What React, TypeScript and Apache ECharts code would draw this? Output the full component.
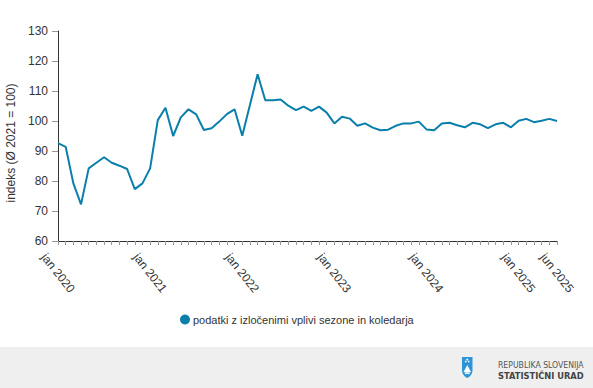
import React, { useEffect, useRef } from "react";
import * as echarts from "echarts";

const monthNames = ["jan", "feb", "mar", "apr", "maj", "jun", "jul", "avg", "sep", "okt", "nov", "dec"];
const years = [2020, 2021, 2022, 2023, 2024, 2025];
const lastMonthCount = 6; // 2025 ends in June

const seriesName = "podatki z izločenimi vplivi sezone in koledarja";
const values = [
  92.6, 91.4, 79.2, 72.2, 84.2, 86.1, 87.9, 86.1, 85.1, 84.0, 77.3, 79.2,
  84.2, 100.3, 104.4, 95.0, 101.2, 103.9, 102.2, 97.0, 97.6, 99.8, 102.3, 103.9,
  95.1, 105.3, 115.6, 106.9, 106.9, 107.2, 105.1, 103.6, 104.8, 103.4, 104.8, 102.8,
  99.2, 101.4, 100.8, 98.4, 99.2, 97.8, 96.9, 97.1, 98.4, 99.2, 99.2, 99.8,
  97.2, 96.9, 99.2, 99.4, 98.6, 97.9, 99.4, 98.9, 97.6, 98.9, 99.4, 97.9,
  100.1, 100.7, 99.6, 100.1, 100.7, 100.0,
];

const yAxisTitle = "indeks (Ø 2021 = 100)";
const yMin = 60;
const yMax = 130;
const yStep = 10;

const categories: string[] = [];
years.forEach((y, yi) => {
  const n = yi === years.length - 1 ? lastMonthCount : 12;
  for (let m = 0; m < n; m++) categories.push(`${monthNames[m]} ${y}`);
});

const shieldPath = "M0 0 L10.5 0 L10.5 13 C10.5 17.5 7.5 20 5.25 21 C3 20 0 17.5 0 13 Z";
const mountainPath = "M1.5 15 L4 10.5 L5.25 8 L6.5 10.5 L9 15 C7.5 16 3 16 1.5 15 Z";
echarts.graphic.registerShape("shieldShape", echarts.graphic.extendPath(shieldPath, {}));
echarts.graphic.registerShape("mountainShape", echarts.graphic.extendPath(mountainPath, {}));

const FONT = "Arial, 'Liberation Sans', sans-serif";

export default function App() {
  const ref = useRef<HTMLDivElement>(null);
  useEffect(() => {
    if (!ref.current) return;
    const chart = echarts.init(ref.current, undefined, { renderer: "svg" });
    const lastIdx = categories.length - 1;
    chart.setOption({
      animation: false,
      backgroundColor: "#ffffff",
      textStyle: { fontFamily: FONT },
      grid: { left: 58, right: 36, top: 31, bottom: 147, containLabel: false },
      legend: {
        show: true,
        left: 175,
        top: 309,
        icon: "circle",
        itemWidth: 10,
        itemHeight: 10,
        itemGap: 10,
        textStyle: { fontSize: 11, color: "#333333", fontFamily: FONT, padding: [0, 0, 0, -2] },
        data: [seriesName],
      },
      xAxis: {
        type: "category",
        data: categories,
        boundaryGap: false,
        axisLine: { show: true, lineStyle: { color: "#333333", width: 1 } },
        axisTick: { show: true, interval: 0, length: 4, lineStyle: { color: "#999999" } },
        axisLabel: {
          interval: (index: number) => index % 12 === 0 || index === lastIdx,
          rotate: -52,
          align: "center",
          verticalAlign: "middle",
          margin: 32,
          fontSize: 12,
          color: "#333333",
          fontFamily: FONT,
        },
        splitLine: { show: false },
      },
      yAxis: {
        type: "value",
        min: yMin,
        max: yMax,
        interval: yStep,
        axisLine: { show: true, lineStyle: { color: "#333333", width: 1 } },
        axisTick: { show: true, length: 6, lineStyle: { color: "#999999" } },
        axisLabel: { fontSize: 12, color: "#333333", margin: 10, fontFamily: FONT },
        splitLine: { show: false },
      },
      series: [
        {
          name: seriesName,
          type: "line",
          data: values,
          symbol: "none",
          color: "#0a7fab",
          lineStyle: { color: "#0a7fab", width: 2 },
        },
      ],
      graphic: [
        {
          type: "text",
          x: 11,
          y: 143,
          rotation: Math.PI / 2,
          style: {
            text: yAxisTitle,
            fontSize: 12,
            fill: "#333333",
            fontFamily: FONT,
            align: "center",
            verticalAlign: "middle",
          },
        },
        {
          type: "rect",
          shape: { x: 0, y: 347, width: 593, height: 41 },
          style: { fill: "#efefef" },
          z: -1,
        },
        {
          type: "group",
          x: 462,
          y: 357,
          children: [
            { type: "shieldShape", x: 0, y: 0, style: { fill: "#2f93d6" } },
            { type: "mountainShape", x: 0, y: 0, style: { fill: "#ffffff" } },
            { type: "circle", shape: { cx: 5.25, cy: 2.5, r: 0.9 }, style: { fill: "#ffffff" } },
            { type: "circle", shape: { cx: 3.8, cy: 4.5, r: 0.8 }, style: { fill: "#ffffff" } },
            { type: "circle", shape: { cx: 6.7, cy: 4.5, r: 0.8 }, style: { fill: "#ffffff" } },
            { type: "rect", shape: { x: 2.8, y: 16.2, width: 5, height: 0.9 }, style: { fill: "#ffffff" } },
          ],
        },
        {
          type: "text",
          x: 498,
          y: 365,
          style: {
            text: "REPUBLIKA SLOVENIJA",
            fontSize: 8.6,
            fill: "#555555",
            fontFamily: "'Liberation Sans Narrow', 'DejaVu Sans Condensed', Arial, sans-serif",
            verticalAlign: "middle",
          },
        },
        {
          type: "text",
          x: 498,
          y: 376,
          style: {
            text: "STATISTIČNI URAD",
            fontSize: 8.3,
            fontWeight: "bold",
            fill: "#444444",
            fontFamily: "'DejaVu Sans', Arial, sans-serif",
            verticalAlign: "middle",
          },
        },
      ],
    });
    return () => chart.dispose();
  }, []);
  return (
    <div
      ref={ref}
      style={{ position: "absolute", left: 0, top: 0, width: 593, height: 388, background: "#ffffff" }}
    />
  );
}
